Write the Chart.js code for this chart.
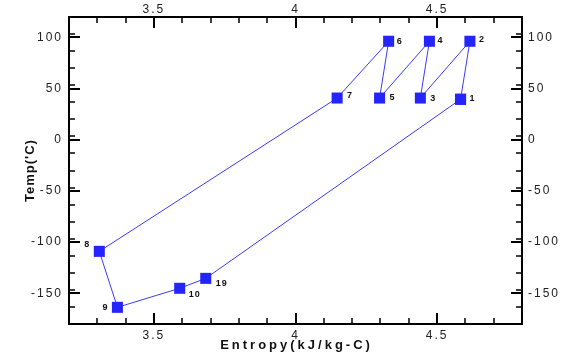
<!DOCTYPE html>
<html>
<head>
<meta charset="utf-8">
<script src="https://cdn.jsdelivr.net/npm/chart.js@4/dist/chart.umd.min.js"></script>
<style>
  html, body { margin: 0; padding: 0; background: #fff; }
  #wrap { width: 565px; height: 356px; }
</style>
</head>
<body>
<div id="wrap"><canvas id="tsChart" width="565" height="356"></canvas></div>
<script>
// state points of the cycle, in drawing order (closed back to point 1)
const pointNames = ['1', '2', '3', '4', '5', '6', '7', '8', '9', '10', '19', '1'];
const entropy = [4.583, 4.616, 4.441, 4.473, 4.297, 4.329, 4.147, 3.307, 3.371, 3.591, 3.683, 4.583];
const temperature = [39.6, 96.3, 40.8, 96.3, 40.8, 96.3, 40.8, -109, -163.7, -145.1, -135.4, 39.6];

const xTicks = [3.5, 4, 4.5];
const yTicks = [-150, -100, -50, 0, 50, 100];
const xMin = 3.2, xMax = 4.8, xMinorStep = 0.1;
const yMin = -180, yMax = 120, yMinorStep = 50 / 3;

const xTitle = 'Entropy(kJ/kg-C)';
const yTitle = "Temp('C)";

// label placement relative to the marker
const labelShift = {
  '1': [12, -1], '2': [12, -2], '3': [13, 0], '4': [11, -1], '5': [13, -1],
  '6': [11, 0], '7': [13, -3], '8': [-12, -7], '9': [-12, 0], '10': [12, 6], '19': [13, 5]
};

const points = entropy.map((s, i) => ({ x: s, y: temperature[i] }));

function fixedTicks(list) {
  return scale => { scale.ticks = list.map(v => ({ value: v })); };
}

function frameAxis(pos, min, max, list, size, pad) {
  return {
    type: 'linear',
    position: pos,
    min: min,
    max: max,
    afterBuildTicks: fixedTicks(list),
    afterFit: scale => {
      if (pos === 'top' || pos === 'bottom') scale.height = size;
      else scale.width = size;
    },
    grid: { display: true, drawOnChartArea: false, drawTicks: false, color: 'rgba(0,0,0,0)' },
    border: { display: true, color: '#000', width: 2 },
    ticks: {
      color: '#222',
      padding: pad,
      font: { family: 'Liberation Sans', size: 12 },
      maxRotation: 0,
      callback: v => String(v)
    }
  };
}

const frameTicks = {
  id: 'frameTicks',
  beforeDraw(chart) {
    const ctx = chart.ctx;
    ctx.save();
    ctx.fillStyle = '#fff';
    ctx.fillRect(0, 0, chart.width, chart.height);
    ctx.restore();
    ctx.letterSpacing = '2px';
  },
  afterDatasetsDraw(chart) {
    const { ctx, chartArea: a, scales } = chart;
    ctx.save();
    ctx.letterSpacing = '0px';
    ctx.strokeStyle = '#000';
    ctx.lineCap = 'butt';

    const xMark = (v, len, w) => {
      const px = Math.round(scales.x.getPixelForValue(v));
      ctx.lineWidth = w;
      ctx.beginPath();
      ctx.moveTo(px, a.bottom); ctx.lineTo(px, a.bottom - len);
      ctx.moveTo(px, a.top); ctx.lineTo(px, a.top + len);
      ctx.stroke();
    };
    const yMark = (v, len, w) => {
      const py = Math.round(scales.y.getPixelForValue(v));
      ctx.lineWidth = w;
      ctx.beginPath();
      ctx.moveTo(a.left, py); ctx.lineTo(a.left + len, py);
      ctx.moveTo(a.right, py); ctx.lineTo(a.right - len, py);
      ctx.stroke();
    };

    for (let v = xMin + xMinorStep; v < xMax - 1e-6; v += xMinorStep) {
      if (!xTicks.some(t => Math.abs(t - v) < 1e-6)) xMark(v, 6, 1.5);
    }
    xTicks.forEach(v => xMark(v, 11, 2));
    for (let v = yMin + yMinorStep; v < yMax - 1e-6; v += yMinorStep) {
      if (!yTicks.some(t => Math.abs(t - v) < 1e-6)) yMark(v, 6, 1.5);
    }
    yTicks.forEach(v => yMark(v, 11, 2));

    // point numbers
    const meta = chart.getDatasetMeta(0);
    ctx.fillStyle = '#111';
    ctx.font = 'bold 9px "Liberation Sans"';
    ctx.letterSpacing = '1px';
    ctx.textBaseline = 'middle';
    pointNames.forEach((name, i) => {
      if (i === pointNames.length - 1) return;
      const el = meta.data[i];
      const [dx, dy] = labelShift[name] || [12, 0];
      ctx.textAlign = dx < 0 ? 'right' : 'left';
      ctx.fillText(name, el.x + dx + (dx < 0 ? 3 : -3), el.y + dy);
    });

    // axis titles
    ctx.fillStyle = '#111';
    ctx.textAlign = 'center';
    ctx.font = 'bold 13px "Liberation Sans"';
    ctx.letterSpacing = '3px';
    ctx.fillText(xTitle, (a.left + a.right) / 2 + 1, 345);
    ctx.letterSpacing = '1px';
    ctx.translate(30, (a.top + a.bottom) / 2);
    ctx.rotate(-Math.PI / 2);
    ctx.fillText(yTitle, 0, 0);
    ctx.restore();
  }
};

new Chart(document.getElementById('tsChart'), {
  type: 'scatter',
  data: {
    datasets: [{
      data: points,
      showLine: true,
      borderColor: '#3b3bff',
      borderWidth: 1,
      pointStyle: 'rect',
      pointRadius: 7.8,
      pointBackgroundColor: '#2424ff',
      pointBorderColor: '#2424ff',
      pointBorderWidth: 0
    }]
  },
  options: {
    responsive: false,
    animation: false,
    devicePixelRatio: 1,
    layout: { padding: 0 },
    plugins: { legend: { display: false }, tooltip: { enabled: false } },
    scales: {
      x: frameAxis('bottom', xMin, xMax, xTicks, 32, 4),
      x2: frameAxis('top', xMin, xMax, xTicks, 17, 0),
      y: frameAxis('left', yMin, yMax, yTicks, 69, 6),
      y2: frameAxis('right', yMin, yMax, yTicks, 43, 6)
    }
  },
  plugins: [frameTicks]
});
</script>
</body>
</html>
